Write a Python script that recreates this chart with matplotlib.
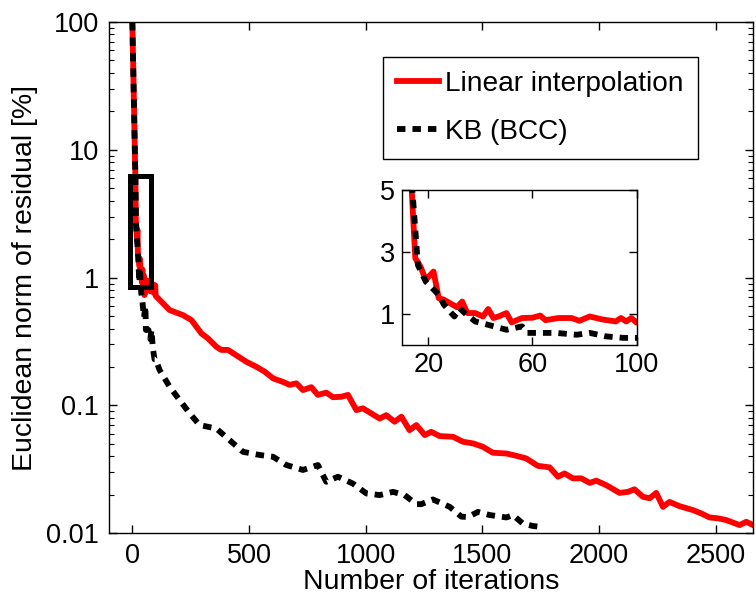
import matplotlib
matplotlib.use("Agg")
import matplotlib.pyplot as plt
from matplotlib.patches import Rectangle
from matplotlib.ticker import NullFormatter

plt.rcParams['font.family'] = ['Liberation Sans', 'DejaVu Sans']

# residual of the linear interpolation run
it_lin = [0, 13, 15, 17, 19, 22, 24, 26, 31, 33, 35, 38, 41, 43, 45, 47, 50, 52, 56, 60,
          63, 65, 70, 75, 78, 82, 87, 92, 94, 96, 98, 100, 160, 217, 253, 296, 324, 360,
          381, 410, 488, 531, 567, 603, 645, 674, 703, 731, 767, 795, 831, 860, 896, 924,
          960, 988, 1060, 1088, 1124, 1153, 1188, 1217, 1253, 1281, 1317, 1374, 1417,
          1460, 1502, 1545, 1603, 1645, 1688, 1738, 1788, 1824, 1852, 1888, 1924, 1960,
          1988, 2031, 2088, 2124, 2152, 2188, 2217, 2245, 2274, 2302, 2345, 2402, 2438,
          2474, 2509, 2545, 2602, 2631, 2660]
res_lin = [100, 6.0, 2.8, 2.53, 2.1, 2.37, 1.51, 1.46, 1.22, 1.40, 1.03, 1.03, 0.92, 1.16,
           0.87, 0.92, 1.03, 0.73, 0.87, 0.88, 0.95, 0.80, 0.87, 0.87, 0.78, 0.92, 0.82,
           0.76, 0.87, 0.76, 0.87, 0.72, 0.557, 0.509, 0.466, 0.366, 0.335, 0.288, 0.272,
           0.272, 0.22, 0.201, 0.184, 0.163, 0.153, 0.145, 0.149, 0.132, 0.139, 0.121,
           0.126, 0.116, 0.117, 0.121, 0.092, 0.095, 0.079, 0.084, 0.0746, 0.0817, 0.0641,
           0.0703, 0.0587, 0.0622, 0.0576, 0.0569, 0.052, 0.0505, 0.0475, 0.0427, 0.0421,
           0.0404, 0.0385, 0.0337, 0.0328, 0.0277, 0.0294, 0.0269, 0.0269, 0.0248, 0.0258,
           0.0238, 0.0207, 0.0211, 0.0221, 0.0193, 0.0188, 0.0207, 0.0161, 0.0176, 0.0163,
           0.0152, 0.0143, 0.0133, 0.0131, 0.0127, 0.0116, 0.0123, 0.0116]

# residual of the KB (BCC) run
it_kb = [0, 13, 16, 19, 24, 26, 30, 32, 34, 38, 43, 50, 56, 58, 61, 69, 77, 82, 88, 95,
         100, 117, 160, 203, 246, 288, 360, 417, 474, 545, 603, 660, 731, 795, 831, 881,
         945, 1003, 1060, 1117, 1167, 1217, 1238, 1288, 1360, 1410, 1438, 1481, 1531,
         1603, 1631, 1674, 1717, 1755]
res_kb = [100, 6.0, 2.58, 2.05, 1.62, 1.30, 0.92, 1.19, 1.03, 0.76, 0.65, 0.49, 0.60, 0.39,
          0.39, 0.39, 0.33, 0.39, 0.28, 0.23, 0.23, 0.189, 0.140, 0.110, 0.0867, 0.0703,
          0.066, 0.0535, 0.0434, 0.041, 0.0397, 0.0342, 0.0313, 0.0342, 0.0253, 0.0277,
          0.0245, 0.0205, 0.0199, 0.0211, 0.0199, 0.0169, 0.0169, 0.0184, 0.0161, 0.0135,
          0.0134, 0.0147, 0.0139, 0.0133, 0.0139, 0.0119, 0.0114, 0.0112]

xticks = [0, 500, 1000, 1500, 2000, 2500]
yticks = [0.01, 0.1, 1, 10, 100]
ytick_labels = ['0.01', '0.1', '1', '10', '100']
inset_xticks = [20, 60, 100]
inset_yticks = [1, 3, 5]

lw = 4.2
dash = (1.45, 1.2)

fig = plt.figure(figsize=(7.56, 5.98), dpi=100)
ax = fig.add_axes([0.1442, 0.1082, 0.8519, 0.855])

ax.plot(it_lin, res_lin, color='red', lw=lw, label='Linear interpolation')
ax.plot(it_kb, res_kb, color='black', lw=lw, dashes=dash, dash_capstyle='butt',
        label='KB (BCC)')
ax.set_yscale('log')
ax.set_xlim(-100, 2660)
ax.set_ylim(0.01, 100)
ax.set_xticks(xticks)
ax.set_yticks(yticks, ytick_labels)
ax.yaxis.set_minor_formatter(NullFormatter())
ax.tick_params(which='both', direction='in', top=True, right=True, labelsize=19.5)
ax.tick_params(which='major', length=6, width=1, pad=7)
ax.tick_params(which='minor', length=3.5, width=0.8)
for s in ax.spines.values():
    s.set_linewidth(1.0)
ax.set_xlabel('Number of iterations', fontsize=20.5, labelpad=0)
ax.set_ylabel('Euclidean norm of residual [%]', fontsize=20.5, labelpad=6)

# zoom box around the first iterations
ax.add_patch(Rectangle((-8, 0.85), 90, 5.35, fill=False, ec='black', lw=3.6, zorder=5))

leg = ax.legend(loc='upper left', bbox_to_anchor=(0.507, 0.905),
                bbox_transform=fig.transFigure, fontsize=20.2, frameon=True,
                fancybox=False, edgecolor='black', framealpha=1, handlelength=1.5,
                handletextpad=0.2, labelspacing=0.8, borderpad=0.5,
                borderaxespad=0)
leg.get_frame().set_linewidth(1.0)

# inset
ax2 = fig.add_axes([0.5321, 0.4231, 0.310, 0.2592])
ax2.plot(it_lin, res_lin, color='red', lw=lw)
ax2.plot(it_kb, res_kb, color='black', lw=lw, dashes=dash, dash_capstyle='butt')
ax2.set_xlim(10, 100)
ax2.set_ylim(0, 5)
ax2.set_xticks(inset_xticks)
ax2.set_yticks(inset_yticks)
ax2.tick_params(direction='in', top=True, right=True, labelsize=19.5, length=6,
                width=1, pad=5)
for s in ax2.spines.values():
    s.set_linewidth(1.0)

fig.savefig('out.png', dpi=100)
